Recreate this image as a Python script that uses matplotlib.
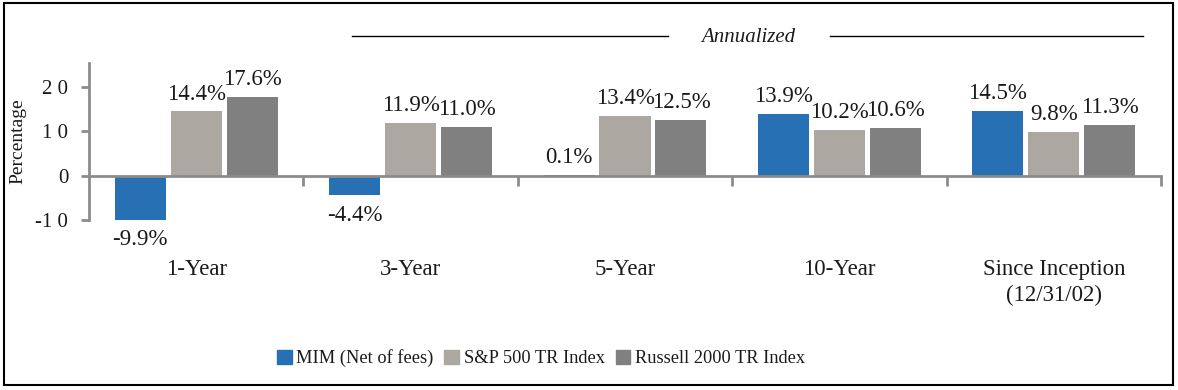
import matplotlib
matplotlib.use("Agg")
import matplotlib.pyplot as plt
from matplotlib.patches import Rectangle
import numpy as np

categories = ["1-Year", "3-Year", "5-Year", "10-Year", "Since Inception\n(12/31/02)"]
series_names = ["MIM (Net of fees)", "S&P 500 TR Index", "Russell 2000 TR Index"]
mim = [-9.9, -4.4, 0.1, 13.9, 14.5]
sp500 = [14.4, 11.9, 13.4, 10.2, 9.8]
russell = [17.6, 11.0, 12.5, 10.6, 11.3]
yticks = [-10, 0, 10, 20]
ytick_labels = ["-1 0", "0", "1 0", "2 0"]

colors = ["#2870B4", "#ADA7A1", "#808080"]
plt.rcParams['font.family'] = ['Liberation Serif', 'DejaVu Serif']
TXT = "#1a1a1a"

W, H = 1178, 390
fig = plt.figure(figsize=(W / 100, H / 100), dpi=100)
fig.patch.set_facecolor("white")

# figure border
fig.add_artist(Rectangle((4 / W, 1 - 385 / H), (1173 - 4) / W, (385 - 3) / H,
                         transform=fig.transFigure, fill=False, edgecolor="black", lw=1.5))

ax = fig.add_axes([89 / W, 1 - 220 / H, (1161 - 89) / W, (220 - 63) / H])
x = np.arange(len(categories))
step = 0.261
width = 0.238
all_series = [mim, sp500, russell]
for i, (vals, c, name) in enumerate(zip(all_series, colors, series_names)):
    bars = ax.bar(x + (i - 1) * step, vals, width, color=c, label=name, zorder=2)
    for rect, v in zip(bars, vals):
        cx = rect.get_x() + rect.get_width() / 2
        if v >= 0:
            ax.annotate(f"{v:.1f}%", (cx, v), xytext=(0, 5), textcoords="offset points",
                        ha="center", va="bottom", fontsize=16.5, color=TXT)
        else:
            ax.annotate(f"{v:.1f}%", (cx, v), xytext=(0, -7), textcoords="offset points",
                        ha="center", va="top", fontsize=16.5, color=TXT)

ax.set_xlim(-0.5, len(categories) - 0.5)
ax.set_ylim(-10, 25.3)
ax.spines["top"].set_visible(False)
ax.spines["right"].set_visible(False)
ax.spines["bottom"].set_position(("data", 0))
for s in ("left", "bottom"):
    ax.spines[s].set_color("#8C8C8C")
    ax.spines[s].set_linewidth(2)
    ax.spines[s].set_zorder(3)
ax.spines["left"].set_bounds(-10, 25.3)

ax.set_yticks(yticks)
ax.set_yticklabels(ytick_labels, fontsize=15, color=TXT)
ax.tick_params(axis="y", length=6, width=2, color="#8C8C8C", pad=9)
ax.set_xticks(np.arange(len(categories)) + 0.5)
ax.set_xticklabels([])
ax.tick_params(axis="x", direction="out", length=7, width=2, color="#8C8C8C")
ax.set_ylabel("Percentage", fontsize=14, color=TXT)
ax.yaxis.set_label_coords(-0.058, 0.5)

for xi, cat in zip(x, categories):
    ax.text(xi, -18.8, cat, ha="center", va="top", fontsize=16.5, color=TXT,
            linespacing=1.3)

# Annualized header
fig.add_artist(plt.Line2D([352 / W, 668 / W], [1 - 36 / H] * 2, color="black", lw=1))
fig.add_artist(plt.Line2D([830 / W, 1143 / W], [1 - 36 / H] * 2, color="black", lw=1))
fig.text(748 / W, 1 - 38 / H, "Annualized", ha="center", va="center", fontsize=15,
         style="italic", color=TXT)

handles = [Rectangle((0, 0), 1, 1, color=c) for c in colors]
leg = fig.legend(handles, series_names, loc="center", bbox_to_anchor=(541 / W, 1 - 358 / H),
                 ncol=3, frameon=False, fontsize=13.2, handlelength=0.8, handleheight=0.8,
                 handletextpad=0.25, columnspacing=0.6)
for t in leg.get_texts():
    t.set_color(TXT)

fig.savefig("out.png", dpi=100, facecolor="white")
